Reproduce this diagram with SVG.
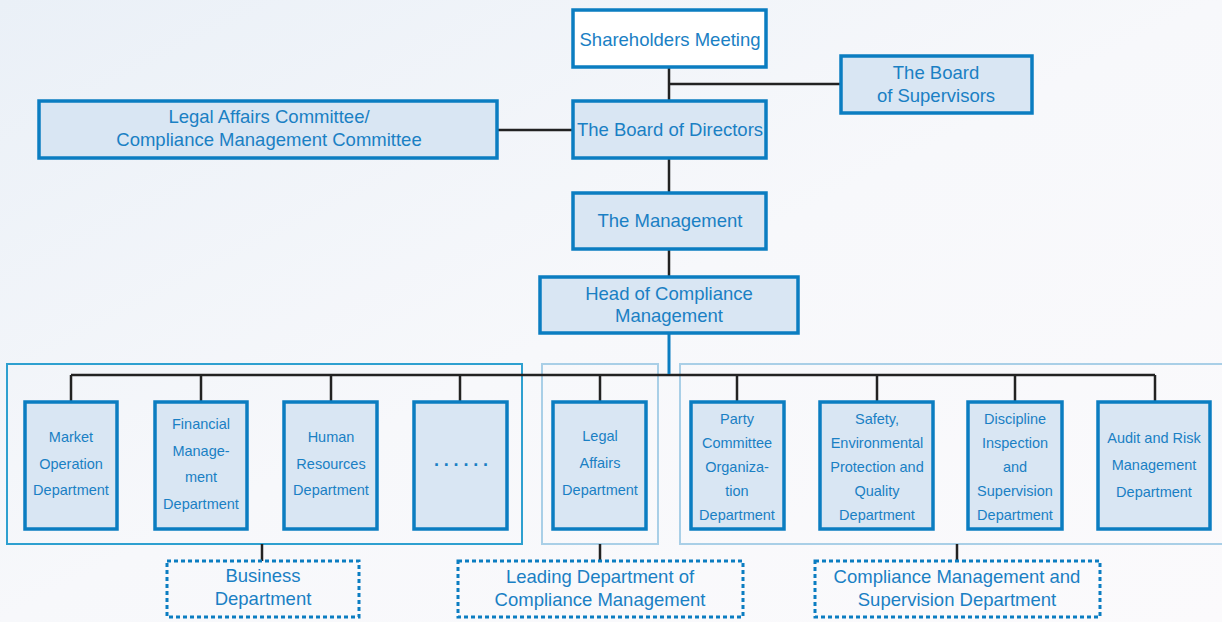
<svg xmlns="http://www.w3.org/2000/svg" width="1222" height="622" viewBox="0 0 1222 622">
<defs>
<linearGradient id="bg" x1="0" y1="0" x2="1" y2="1">
<stop offset="0" stop-color="#eaf0f7"/>
<stop offset="0.5" stop-color="#f7f8fb"/>
<stop offset="1" stop-color="#fbfafc"/>
</linearGradient>
</defs>
<style>
.box{fill:#d9e6f3;stroke:#0b7dc1;stroke-width:3.5}
.white{fill:#ffffff}
.dash{fill:none;stroke:#0b7dc1;stroke-width:3;stroke-dasharray:4 3}
.grp1{fill:none;stroke:#2ea0d0;stroke-width:2}
.grp2{fill:none;stroke:#a9cfe7;stroke-width:2}
.ln{stroke:#222;stroke-width:2.5;fill:none}
.bl{stroke:#0b7dc1;stroke-width:3;fill:none}
text{font-family:"Liberation Sans",Arial,sans-serif;fill:#1a80c4;text-anchor:middle}
.big{font-size:18.5px}
.sm{font-size:14.5px}
</style>
<rect width="1222" height="622" fill="url(#bg)"/>

<g id="groups">
<rect class="grp1" x="7" y="364" width="515" height="180"/>
<rect class="grp2" x="542" y="364" width="116" height="180"/>
<rect class="grp2" x="680" y="364" width="550" height="180"/>
</g>

<g id="connectors">
<path class="ln" d="M669 67V101M669 84H841M497 130H573M669 158V193M669 249V277"/>
<path class="ln" d="M71 375H1155M71 375V402M201 375V402M331 375V402M460 375V402M600 375V402M737 375V402M877 375V402M1015 375V402M1155 375V402"/>
<path class="bl" d="M669 333V374"/>
<path class="ln" d="M262 544V561M600 544V561M957 544V561"/>
</g>

<g id="shareholders">
<rect class="box white" x="573" y="10" width="193" height="57"/>
<text class="big" x="670" y="46">Shareholders Meeting</text>
</g>
<g id="supervisors">
<rect class="box" x="841" y="56" width="191" height="57"/>
<text class="big" x="936" y="79">The Board</text>
<text class="big" x="936" y="102">of Supervisors</text>
</g>
<g id="directors">
<rect class="box" x="573" y="101" width="193" height="57"/>
<text class="big" x="670" y="136">The Board of Directors</text>
</g>
<g id="committee">
<rect class="box" x="39" y="101" width="458" height="57"/>
<text class="big" x="269" y="123">Legal Affairs Committee/</text>
<text class="big" x="269" y="146">Compliance Management Committee</text>
</g>
<g id="management">
<rect class="box" x="573" y="193" width="193" height="56"/>
<text class="big" x="670" y="227">The Management</text>
</g>
<g id="head">
<rect class="box" x="540" y="277" width="258" height="56"/>
<text class="big" x="669" y="300">Head of Compliance</text>
<text class="big" x="669" y="322">Management</text>
</g>

<g id="market">
<rect class="box" x="25" y="402" width="92" height="127"/>
<text class="sm" x="71" y="442">Market</text>
<text class="sm" x="71" y="469">Operation</text>
<text class="sm" x="71" y="495">Department</text>
</g>
<g id="financial">
<rect class="box" x="155" y="402" width="92" height="127"/>
<text class="sm" x="201" y="429">Financial</text>
<text class="sm" x="201" y="456">Manage-</text>
<text class="sm" x="201" y="482">ment</text>
<text class="sm" x="201" y="509">Department</text>
</g>
<g id="hr">
<rect class="box" x="284" y="402" width="93" height="127"/>
<text class="sm" x="331" y="442">Human</text>
<text class="sm" x="331" y="469">Resources</text>
<text class="sm" x="331" y="495">Department</text>
</g>
<g id="more">
<rect class="box" x="414" y="402" width="93" height="127"/>
<text x="463.4" y="465.5" style="font-size:18px;font-weight:bold;letter-spacing:4.8px">......</text>
</g>
<g id="legal">
<rect class="box" x="553" y="402" width="93" height="127"/>
<text class="sm" x="600" y="441">Legal</text>
<text class="sm" x="600" y="468">Affairs</text>
<text class="sm" x="600" y="495">Department</text>
</g>
<g id="party">
<rect class="box" x="691" y="402" width="93" height="127"/>
<text class="sm" x="737" y="424">Party</text>
<text class="sm" x="737" y="448">Committee</text>
<text class="sm" x="737" y="472">Organiza-</text>
<text class="sm" x="737" y="496">tion</text>
<text class="sm" x="737" y="520">Department</text>
</g>
<g id="safety">
<rect class="box" x="820" y="402" width="113" height="127"/>
<text class="sm" x="877" y="424">Safety,</text>
<text class="sm" x="877" y="448">Environmental</text>
<text class="sm" x="877" y="472">Protection and</text>
<text class="sm" x="877" y="496">Quality</text>
<text class="sm" x="877" y="520">Department</text>
</g>
<g id="discipline">
<rect class="box" x="968" y="402" width="94" height="127"/>
<text class="sm" x="1015" y="424">Discipline</text>
<text class="sm" x="1015" y="448">Inspection</text>
<text class="sm" x="1015" y="472">and</text>
<text class="sm" x="1015" y="496">Supervision</text>
<text class="sm" x="1015" y="520">Department</text>
</g>
<g id="audit">
<rect class="box" x="1098" y="402" width="112" height="127"/>
<text class="sm" x="1154" y="443">Audit and Risk</text>
<text class="sm" x="1154" y="470">Management</text>
<text class="sm" x="1154" y="497">Department</text>
</g>

<g id="business">
<rect class="dash" x="167" y="561" width="192" height="56"/>
<text class="big" x="263" y="582">Business</text>
<text class="big" x="263" y="605">Department</text>
</g>
<g id="leading">
<rect class="dash" x="458" y="561" width="285" height="56"/>
<text class="big" x="600" y="583">Leading Department of</text>
<text class="big" x="600" y="606">Compliance Management</text>
</g>
<g id="supervision">
<rect class="dash" x="815" y="561" width="285" height="56"/>
<text class="big" x="957" y="583">Compliance Management and</text>
<text class="big" x="957" y="606">Supervision Department</text>
</g>
</svg>
